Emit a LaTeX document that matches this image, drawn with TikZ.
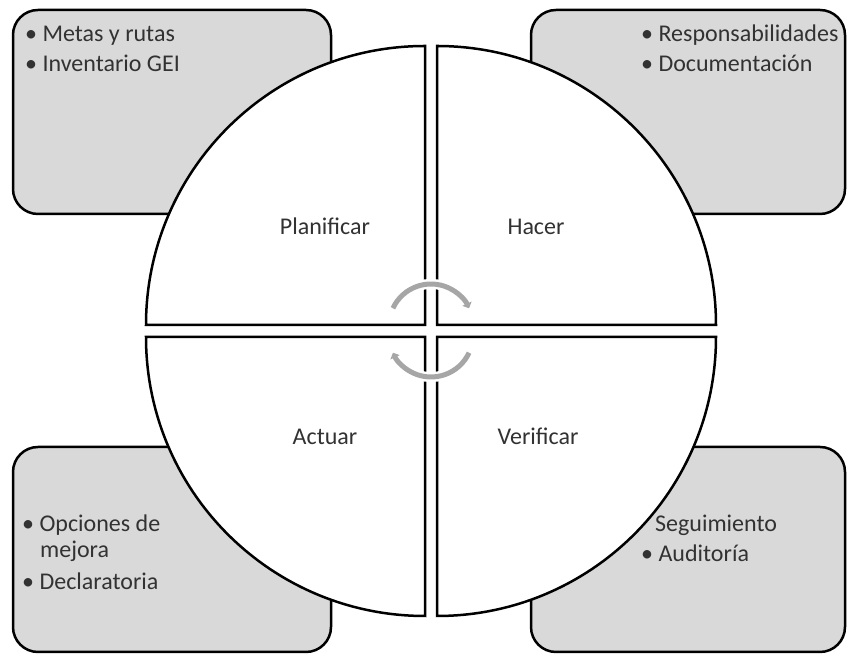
\documentclass[tikz,border=0pt]{standalone}
\usepackage{fontspec}
\setmainfont{Carlito}
\usetikzlibrary{arrows.meta}
\definecolor{boxfill}{RGB}{217,217,217}
\definecolor{txt}{RGB}{50,50,50}
\definecolor{cyc}{RGB}{166,166,166}
\begin{document}
\begin{tikzpicture}[x=1pt,y=1pt,
  font=\fontsize{24}{26}\selectfont,
  infobox/.style={draw=black,line width=2.5pt,fill=boxfill,rounded corners=25pt},
  quad/.style={draw=black,line width=2.5pt,fill=white,line join=miter},
  txtline/.style={anchor=base west,inner sep=0pt,text=txt},
  lbl/.style={anchor=base,inner sep=0pt,text=txt},
  halo/.style={white,line width=10pt},
  cycarrow/.style={cyc,line width=5pt,-{Triangle[width=10pt,length=5pt]}}]
\useasboundingbox (0,0) rectangle (847,655);
% info boxes
\draw[infobox] (13,441) rectangle (331,645);
\draw[infobox] (531,441) rectangle (845,645);
\draw[infobox] (13,3) rectangle (331,208);
\draw[infobox] (531,3) rectangle (845,208);
% quadrants
\coordinate (c1) at (425,330);
\coordinate (c2) at (437,330);
\coordinate (c3) at (425,318);
\coordinate (c4) at (437,318);
\draw[quad] (c1) -- ++(-279,0) arc[start angle=180,end angle=90,radius=279] -- cycle;
\draw[quad] (c2) -- ++(0,279) arc[start angle=90,end angle=0,radius=279] -- cycle;
\draw[quad] (c4) -- ++(279,0) arc[start angle=0,end angle=-90,radius=279] -- cycle;
\draw[quad] (c3) -- ++(0,-279) arc[start angle=270,end angle=180,radius=279] -- cycle;
% cycle arrows
\coordinate (ctop) at (431,329);
\coordinate (cbot) at (431,320);
\draw[halo] (ctop) ++(160:42) arc[start angle=160,end angle=20,radius=42];
\draw[halo] (cbot) ++(-20:42) arc[start angle=-20,end angle=-160,radius=42];
\draw[cycarrow] (ctop) ++(155:42) arc[start angle=155,end angle=25,radius=42];
\draw[cycarrow] (cbot) ++(-25:42) arc[start angle=-25,end angle=-155,radius=42];
% labels
\node[lbl] (plan) at (325,420) {Planificar};
\node[lbl] (hacer) at (536,420) {Hacer};
\node[lbl] (actuar) at (325,210) {Actuar};
\node[lbl] (verif) at (538,210) {Verificar};
% box texts
\node[txtline] (tl1) at (25,613) {• Metas y rutas};
\node[txtline] (tl2) at (25,583) {• Inventario GEI};
\node[txtline] (tr1) at (641,613) {• Responsabilidades};
\node[txtline] (tr2) at (641,583) {• Documentación};
\node[txtline] (bl1) at (22,123) {• Opciones de};
\node[txtline] (bl2) at (40,97) {mejora};
\node[txtline] (bl3) at (22,65) {• Declaratoria};
\node[txtline] (br1) at (655,123) {Seguimiento};
\node[txtline] (br2) at (641,93) {• Auditoría};
\end{tikzpicture}
\end{document}
